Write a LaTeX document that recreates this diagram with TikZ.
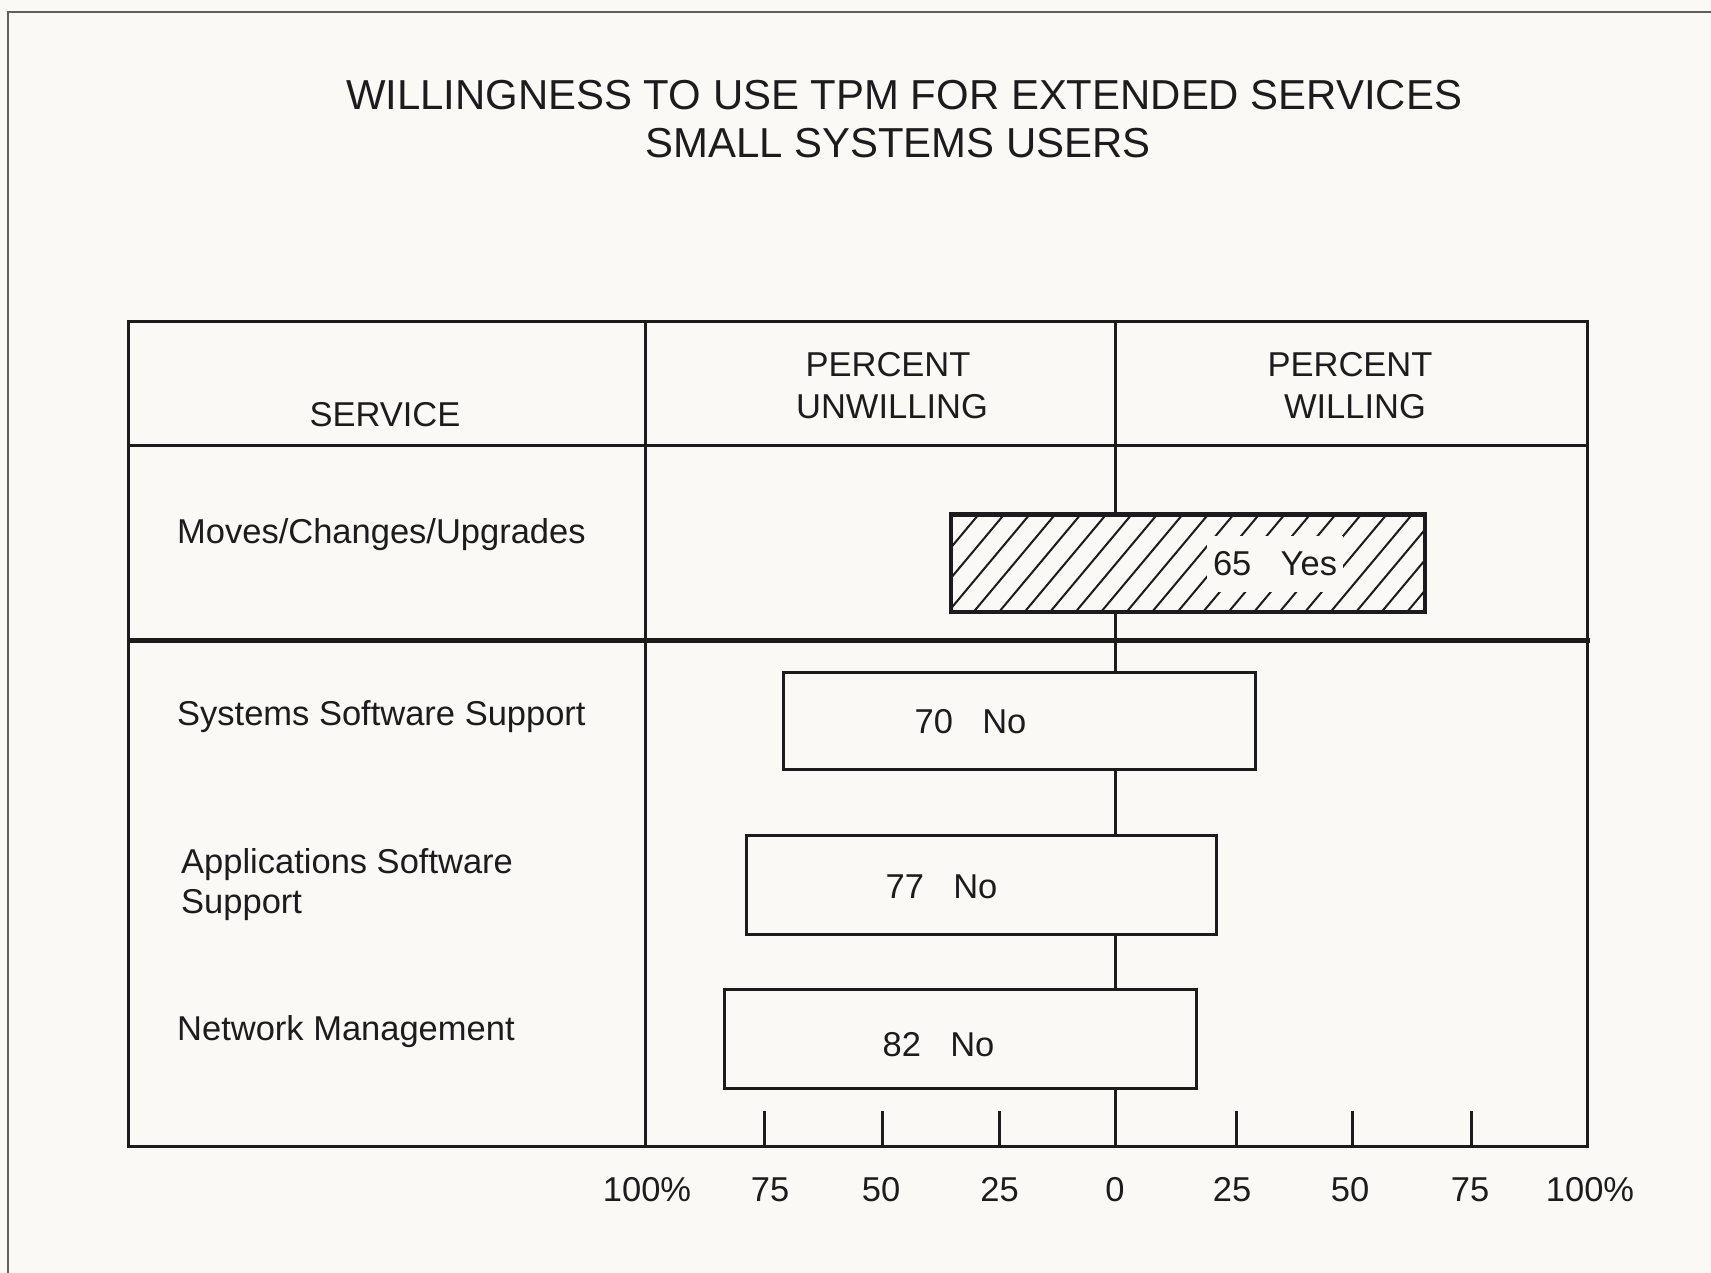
\documentclass[tikz,border=0pt]{standalone}
\usepackage{fontspec}
\setmainfont{Liberation Sans}
\definecolor{paper}{RGB}{250,249,246}
\definecolor{ink}{RGB}{30,27,30}
\definecolor{framegray}{RGB}{95,95,95}

\begin{document}
\begin{tikzpicture}[x=1pt,y=-1pt,
  txt/.style={font=\fontsize{34.5}{40}\selectfont, text=ink, inner sep=0pt, anchor=base},
  ttl/.style={font=\fontsize{41.9}{48}\selectfont, text=ink, inner sep=0pt, anchor=base},
  rulethin/.style={draw=ink, line width=3pt},
  rulethick/.style={draw=ink, line width=5pt},
  barbox/.style={draw=ink, line width=3pt, fill=paper, inner sep=0pt},
  hatchline/.style={draw=ink, line width=2pt},
  tickmark/.style={draw=ink, line width=3pt},
  axislabel/.style={txt, anchor=base}
]
% page and outer frame
\fill[paper] (0,0) rectangle (1711,1273);
\useasboundingbox (0,0) rectangle (1711,1273);
\draw[framegray, line width=1.5pt] (1711,12) -- (8,12) -- (8,1273);

% title
\node[ttl] (title1) at (904,110) {WILLINGNESS TO USE TPM FOR EXTENDED SERVICES};
\node[ttl] (title2) at (898,158) {SMALL SYSTEMS USERS};

% table frame
\coordinate (tl) at (128,322);
\coordinate (br) at (1587,1146);
\draw[rulethin] (tl) rectangle (br);
\draw[rulethin] (128,445) -- (1587,445);
\draw[rulethick] (128,640) -- (1590,640);
\draw[rulethin] (645,322) -- (645,1146);
\draw[rulethin] (1115,322) -- (1115,1146);

% header texts
\node[txt] (hservice) at (385,426) {SERVICE};
\node[txt] (hpct1) at (888,376) {PERCENT};
\node[txt] (hunw) at (892,418) {UNWILLING};
\node[txt] (hpct2) at (1350,376) {PERCENT};
\node[txt] (hwil) at (1355,418) {WILLING};

% row labels
\node[txt, anchor=base west] (r1) at (177,543) {Moves/Changes/Upgrades};
\node[txt, anchor=base west] (r2) at (177,725) {Systems Software Support};
\node[txt, anchor=base west] (r3a) at (181,873) {Applications Software};
\node[txt, anchor=base west] (r3b) at (181,913) {Support};
\node[txt, anchor=base west] (r4) at (177,1040) {Network Management};

% hatched bar: willing
\node[barbox, minimum width=472.5pt, minimum height=96pt] (yesbar) at (1187.75,563) {};
\begin{scope}
  \clip (yesbar.south west) rectangle (yesbar.north east);
  \foreach \i in {0,...,24} {
    \draw[hatchline] ({951.5-80+\i*25.5},612) -- ++(82,-98);
  }
\end{scope}
\draw[ink, line width=3pt] (yesbar.south west) rectangle (yesbar.north east);
\node[txt, anchor=center, fill=paper, inner xsep=6pt, minimum height=56pt] (yeslbl) at (1275,564) {65\hspace{0.85em}Yes};

% plain bars: unwilling
\node[barbox, minimum width=471.5pt, minimum height=97pt] (bar2) at (1019.25,720.5) {};
\node[txt] (lbl2) at (970.5,733) {70\hspace{0.85em}No};

\node[barbox, minimum width=470.5pt, minimum height=99pt] (bar3) at (981.5,884.5) {};
\node[txt] (lbl3) at (941.5,898) {77\hspace{0.85em}No};

\node[barbox, minimum width=471.5pt, minimum height=99pt] (bar4) at (960.5,1038.5) {};
\node[txt] (lbl4) at (938.5,1056) {82\hspace{0.85em}No};

% tick marks
\foreach \tx in {764,882,999.5,1236,1352,1471} {
  \draw[tickmark] (\tx,1111) -- (\tx,1146);
}

% axis labels
\node[axislabel] (a1) at (647,1201) {100\%};
\node[axislabel] (a2) at (770,1201) {75};
\node[axislabel] (a3) at (881,1201) {50};
\node[axislabel] (a4) at (999.5,1201) {25};
\node[axislabel] (a5) at (1115,1201) {0};
\node[axislabel] (a6) at (1232,1201) {25};
\node[axislabel] (a7) at (1350,1201) {50};
\node[axislabel] (a8) at (1470,1201) {75};
\node[axislabel] (a9) at (1590,1201) {100\%};
\end{tikzpicture}
\end{document}
